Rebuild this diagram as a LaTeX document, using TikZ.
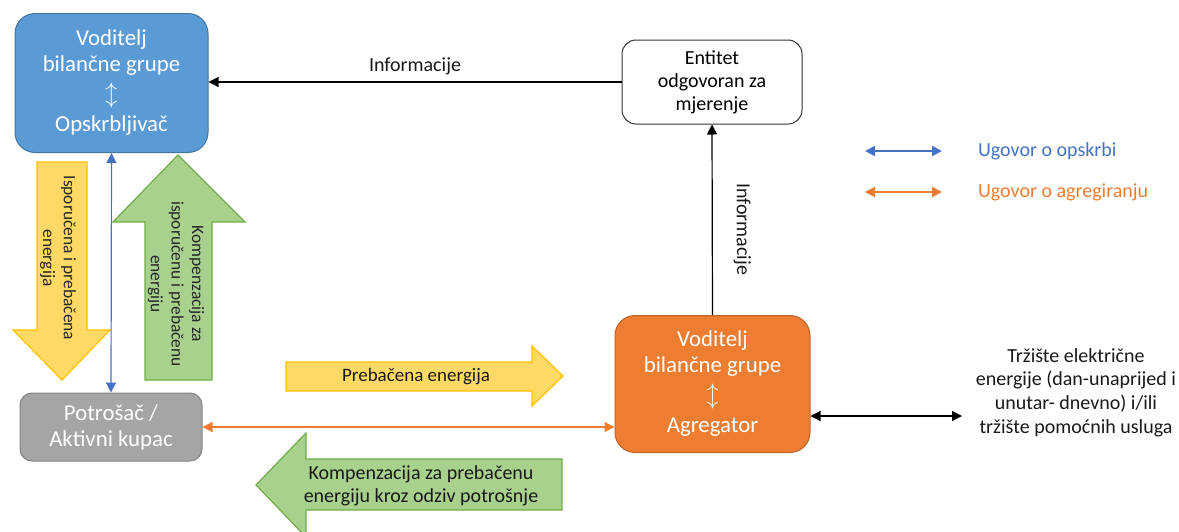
\documentclass[tikz,border=0pt]{standalone}
\usepackage{fontspec}
\setmainfont{Carlito}
\usetikzlibrary{arrows.meta}
\definecolor{vbgblue}{HTML}{5B9BD5}
\definecolor{potrgray}{HTML}{A5A5A5}
\definecolor{agrorange}{HTML}{ED7D31}
\definecolor{arryellow}{HTML}{FFD966}
\definecolor{arryellowline}{HTML}{FFC000}
\definecolor{arrgreen}{HTML}{A9D18E}
\definecolor{arrgreenline}{HTML}{70AD47}
\definecolor{ugblue}{HTML}{4472C4}
\newcommand{\updn}{{\fontsize{12.5}{13}\selectfont$\updownarrow$}}
\tikzset{
	box/.style = {rounded corners = 10pt, draw, line width = 0.5pt, align = center,
		text = white, inner sep = 0pt, font = \fontsize{11.4}{13}\selectfont},
	headarrow/.style = {-{Triangle[length = 5pt, width = 5pt]}},
	bothheads/.style = {{Triangle[length = 5pt, width = 5pt]}-{Triangle[length = 5pt, width = 5pt]}},
	yarrow/.style = {fill = arryellow, draw = arryellowline, line width = 0.6pt},
	garrow/.style = {fill = arrgreen, draw = arrgreenline, line width = 0.6pt},
	arrtext/.style = {align = center, text = black!85, font = \fontsize{8.7}{10.3}\selectfont},
	lbl/.style = {align = center, text = black!90, font = \fontsize{10}{11.7}\selectfont}
}
\begin{document}
\begin{tikzpicture}[x = 0.5pt, y = -0.5pt]
\useasboundingbox (0,0) rectangle (1179,531);
% block arrows
\draw [yarrow] (37,162) -- (87,162) -- (87,330) -- (110,330) -- (62,380) -- (13,330)
	-- (37,330) -- cycle;
\node [arrtext, rotate = -90] (tisp) at (58,258) {Isporučena i prebačena\\energija};
\draw [garrow] (145,380) -- (145,222) -- (113,222) -- (178,155) -- (245,222) -- (212,222)
	-- (212,380) -- cycle;
\node [arrtext, rotate = -90] (tkomp) at (176,284)
{Kompenzacija za\\isporučenu i prebačenu\\energiju};
\draw [yarrow] (286,362) -- (532,362) -- (532,346) -- (563,376) -- (532,406) -- (532,391)
	-- (286,391) -- cycle;
\node [lbl, font = \fontsize{9.5}{11}\selectfont] (tpreb) at (416,377) {Prebačena energija};
\draw [garrow] (562,459) -- (306,459) -- (306,433) -- (256,485) -- (306,537) -- (306,510)
	-- (562,510) -- cycle;
\node [lbl] (tkpreb) at (421,485.5)
{Kompenzacija za prebačenu\\energiju kroz odziv potrošnje};
% boxes
\node [box, fill = vbgblue, draw = vbgblue!75!black, minimum width = 96.5pt,
	minimum height = 69.5pt] (vbg) at (111.5,83)
{Voditelj\\bilančne grupe\\[2pt]\updn\\[2pt]Opskrbljivač};
\node [box, fill = potrgray, draw = potrgray!80!black, rounded corners = 6pt,
	minimum width = 91pt, minimum height = 34pt] (potr) at (111,427)
{Potrošač /\\Aktivni kupac};
\node [box, fill = agrorange, draw = agrorange!80!black, minimum width = 97.5pt,
	minimum height = 68.5pt] (agr) at (712.5,384)
{Voditelj\\bilančne grupe\\[2pt]\updn\\[2pt]Agregator};
\node [box, fill = white, draw = black!80, text = black, rounded corners = 7pt,
	font = \fontsize{10}{11.5}\selectfont, minimum width = 90pt, minimum height = 42pt]
	(ent) at (712,82) {Entitet\\odgovoran za\\mjerenje};
\node [lbl, font = \fontsize{10}{11.8}\selectfont] (trz) at (1076,392.5)
{Tržište električne\\energije (dan-unaprijed i\\unutar- dnevno) i/ili\\tržište pomoćnih usluga};
% connectors
\draw [bothheads, ugblue, line width = 0.6pt] (vbg.south) -- (potr.north);
\draw [bothheads, agrorange, line width = 0.6pt] (potr.east) -- (potr.east -| agr.west);
\draw [headarrow, line width = 0.6pt] (ent.west) -- node [lbl, above] {Informacije}
	(ent.west -| vbg.east);
\draw [headarrow, line width = 0.6pt] (agr.north) -- node [lbl, sloped, above = 7pt,
	pos = 0.45] {Informacije} (ent.south);
\coordinate (mkt) at (962,416);
\draw [bothheads, line width = 0.6pt] (agr.east |- mkt) -- (mkt);
% legend
\coordinate (lb1) at (865,151);
\coordinate (lb2) at (942,151);
\coordinate (lo1) at (865,192);
\coordinate (lo2) at (942,192);
\draw [bothheads, ugblue, line width = 1pt] (lb1) -- (lb2);
\draw [bothheads, agrorange, line width = 1pt] (lo1) -- (lo2);
\node [lbl, text = ugblue, anchor = west] (lopsk) at (971,151) {Ugovor o opskrbi};
\node [lbl, text = agrorange, anchor = west] (lagr) at (971,192) {Ugovor o agregiranju};
\end{tikzpicture}
\end{document}
